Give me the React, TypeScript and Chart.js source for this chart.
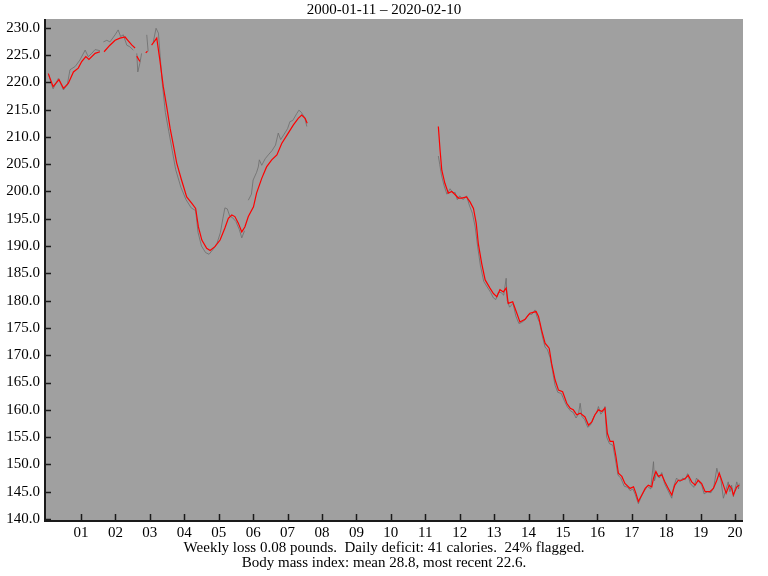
import React, { useEffect, useRef } from "react";
import { Chart, registerables } from "chart.js";

Chart.register(...registerables);

const titleText = "2000-01-11 \u2013 2020-02-10";
const footerLines = [
  "Weekly loss 0.08 pounds.  Daily deficit: 41 calories.  24% flagged.",
  "Body mass index: mean 28.8, most recent 22.6.",
];

const yTickValues = [140, 145, 150, 155, 160, 165, 170, 175, 180, 185, 190, 195, 200, 205, 210, 215, 220, 225, 230];
const xTickYears = [2001, 2002, 2003, 2004, 2005, 2006, 2007, 2008, 2009, 2010, 2011, 2012, 2013, 2014, 2015, 2016, 2017, 2018, 2019, 2020];

// Trend line (red); null = gap
const trendYears = [
  2000.05, 2000.19, 2000.36, 2000.49, 2000.63, 2000.78, 2000.92, 2001.02, 2001.14, 2001.23, 2001.41, 2001.55,
  2001.6,
  2001.67, 2001.84, 2001.99, 2002.13, 2002.28, 2002.36, 2002.48, 2002.57,
  2002.6,
  2002.62, 2002.71,
  2002.8,
  2002.88, 2002.93,
  2002.98,
  2003.05, 2003.2, 2003.29, 2003.39, 2003.49, 2003.59, 2003.68, 2003.78, 2003.92, 2004.07, 2004.22, 2004.33,
  2004.41, 2004.51, 2004.65, 2004.75, 2004.89, 2005.04, 2005.18, 2005.28, 2005.38, 2005.47, 2005.57, 2005.67,
  2005.76, 2005.86, 2006.01, 2006.1, 2006.25, 2006.39, 2006.54, 2006.69, 2006.83, 2007.02, 2007.17, 2007.31,
  2007.41, 2007.51, 2007.57,
  2009.5,
  2011.38, 2011.43, 2011.48, 2011.57, 2011.67, 2011.77, 2011.87, 2011.96, 2012.06, 2012.2, 2012.3, 2012.4,
  2012.48, 2012.54, 2012.64, 2012.74, 2012.88, 2012.98, 2013.08, 2013.17, 2013.27, 2013.35, 2013.41, 2013.54,
  2013.66, 2013.75, 2013.9, 2014.04, 2014.22, 2014.29, 2014.38, 2014.48, 2014.6, 2014.67, 2014.77, 2014.87,
  2014.99, 2015.11, 2015.21, 2015.3, 2015.4, 2015.5, 2015.64, 2015.74, 2015.84, 2015.93, 2016.03, 2016.13,
  2016.22, 2016.29, 2016.37, 2016.46, 2016.54, 2016.61, 2016.71, 2016.8, 2016.95, 2017.05, 2017.12, 2017.19,
  2017.29, 2017.39, 2017.48, 2017.58, 2017.63, 2017.7, 2017.77, 2017.87, 2017.96, 2018.06, 2018.16, 2018.25,
  2018.35, 2018.45, 2018.55, 2018.64, 2018.74, 2018.84, 2018.93, 2019.03, 2019.13, 2019.27, 2019.37, 2019.47,
  2019.54, 2019.66, 2019.74, 2019.83, 2019.9, 2019.95, 2020.05, 2020.12,
];
const trendWeights = [
  221.6, 219.2, 220.5, 218.9, 219.8, 221.9, 222.6, 223.8, 224.7, 224.2, 225.3, 225.6,
  null,
  225.6, 226.8, 227.7, 228.1, 228.3, 227.7, 226.8, 226.3,
  null,
  224.8, 223.8,
  null,
  225.4, 225.7,
  null,
  226.8, 228.1, 224.1, 219.2, 215.5, 211.5, 208.6, 205.2, 202.1, 199.0, 197.8, 196.9,
  193.5, 191.1, 189.6, 189.2, 189.9, 191.1, 193.3, 195.1, 195.7, 195.4, 194.2, 192.6,
  193.5, 195.4, 197.2, 199.7, 202.4, 204.5, 205.8, 206.7, 208.8, 210.7, 212.2, 213.4,
  214.0, 213.4, 212.5,
  null,
  211.9, 207.6, 203.9, 201.5, 199.7, 200.0, 199.4, 198.8, 198.8, 199.0, 198.1, 196.9,
  194.2, 190.5, 186.8, 183.8, 182.3, 181.3, 180.7, 182.0, 181.6, 182.3, 179.5, 179.8,
  177.7, 176.1, 176.6, 177.7, 178.0, 177.1, 174.6, 172.2, 171.3, 168.5, 165.5, 163.6,
  163.3, 161.2, 160.3, 160.0, 159.1, 159.4, 158.7, 157.2, 157.8, 159.1, 160.0, 159.7,
  160.3, 155.7, 154.2, 154.2, 151.4, 148.4, 147.8, 146.5, 145.6, 145.9, 144.7, 143.2,
  144.4, 145.6, 146.2, 145.9, 147.5, 148.7, 147.8, 148.1, 146.8, 145.6, 144.4, 146.2,
  147.1, 147.1, 147.4, 148.0, 146.8, 146.2, 147.1, 146.5, 145.0, 145.0, 145.6, 147.1,
  148.4, 146.2, 144.7, 146.2, 145.6, 144.4, 145.9, 146.2,
];

// Raw weights (gray); null = gap
const rawYears = [
  2000.05, 2000.1, 2000.19, 2000.34, 2000.49, 2000.6, 2000.68, 2000.83, 2000.97, 2001.12, 2001.21, 2001.31, 2001.41, 2001.55,
  2001.6,
  2001.65, 2001.75, 2001.84, 2001.99, 2002.08, 2002.15, 2002.23, 2002.33, 2002.42, 2002.52,
  2002.57,
  2002.62, 2002.65, 2002.71, 2002.76,
  2002.83,
  2002.91, 2002.95,
  2003.02,
  2003.1, 2003.18, 2003.25, 2003.35, 2003.45, 2003.55, 2003.65, 2003.75, 2003.9, 2004.05, 2004.2, 2004.33,
  2004.4, 2004.5, 2004.62, 2004.72, 2004.85, 2004.95, 2005.05, 2005.12, 2005.18, 2005.25, 2005.32, 2005.4,
  2005.5, 2005.6, 2005.67, 2005.75,
  2005.8,
  2005.86, 2005.95, 2006.0, 2006.1, 2006.15, 2006.18, 2006.25, 2006.35, 2006.44, 2006.55, 2006.65, 2006.73,
  2006.8, 2006.9, 2007.0, 2007.07, 2007.15, 2007.27, 2007.33, 2007.4, 2007.5, 2007.56,
  2009.5,
  2011.38, 2011.42, 2011.47, 2011.55, 2011.63, 2011.72, 2011.8, 2011.87, 2011.93, 2012.0, 2012.1, 2012.2,
  2012.28, 2012.37, 2012.45, 2012.52, 2012.6, 2012.7, 2012.8, 2012.9, 2012.98, 2013.05, 2013.12, 2013.2,
  2013.28, 2013.35, 2013.38, 2013.45, 2013.55, 2013.63, 2013.72, 2013.8, 2013.9, 2014.0, 2014.1, 2014.19,
  2014.25, 2014.32, 2014.4, 2014.48, 2014.55, 2014.63, 2014.7, 2014.77, 2014.85, 2014.95, 2015.05, 2015.13,
  2015.22, 2015.3, 2015.38, 2015.45, 2015.5, 2015.55, 2015.63, 2015.72, 2015.8, 2015.9, 2015.98, 2016.03,
  2016.1, 2016.18, 2016.22, 2016.27, 2016.35, 2016.45, 2016.52, 2016.6, 2016.68, 2016.78, 2016.88, 2016.95,
  2017.03, 2017.1, 2017.19, 2017.27, 2017.35, 2017.45, 2017.55, 2017.63, 2017.66, 2017.72, 2017.8, 2017.87,
  2017.95, 2018.05, 2018.16, 2018.22, 2018.3, 2018.4, 2018.48, 2018.55, 2018.62, 2018.7, 2018.8, 2018.88,
  2018.95, 2019.03, 2019.1, 2019.2, 2019.3, 2019.38, 2019.47, 2019.52, 2019.58, 2019.66, 2019.72, 2019.8,
  2019.85, 2019.9, 2019.95, 2020.0, 2020.05, 2020.1, 2020.12,
];
const rawWeights = [
  221.6, 220.5, 218.8, 220.7, 218.6, 219.5, 222.3, 222.9, 224.1, 225.9, 224.7, 225.3, 226.0, 225.8,
  null,
  227.4, 227.7, 227.4, 228.7, 229.6, 228.4, 228.7, 226.8, 226.5, 225.9,
  null,
  225.3, 221.9, 223.5, 225.3,
  null,
  228.7, 225.7,
  null,
  227.4, 229.9, 229.0, 220.5, 214.5, 211.0, 207.5, 204.0, 200.8, 198.5, 197.0, 196.5,
  192.5, 190.0, 188.8, 188.5, 189.5, 190.5, 192.5, 195.0, 197.0, 196.8, 195.5, 195.2,
  194.5, 193.0, 191.5, 192.8,
  null,
  198.4, 199.5, 202.1, 203.5, 204.5, 205.8, 204.8, 206.0, 206.7, 207.5, 208.5, 210.7,
  209.5, 210.5, 211.5, 212.8, 213.0, 214.3, 214.9, 214.5, 213.5, 211.9,
  null,
  206.5, 205.0, 203.0, 201.0, 199.5, 200.5, 199.8, 199.8, 198.5, 199.2, 198.5, 199.2,
  197.5, 196.0, 193.5, 190.0, 186.5, 183.5, 182.5, 181.5, 180.5, 180.2, 181.5, 181.5,
  181.0, 184.1, 180.0, 178.8, 179.5, 177.2, 175.8, 176.0, 176.5, 177.5, 177.5, 178.3,
  177.0, 176.0, 173.5, 171.5, 171.0, 169.5, 167.0, 164.5, 163.2, 163.0, 161.5, 160.5,
  159.8, 159.5, 158.5, 159.2, 161.2, 158.8, 158.2, 156.8, 157.2, 158.8, 159.5, 160.6,
  159.2, 159.8, 160.6, 155.0, 153.8, 153.5, 151.0, 148.0, 147.5, 146.0, 145.8, 145.2,
  145.5, 144.5, 142.8, 144.0, 145.0, 146.0, 145.5, 150.5, 147.0, 148.5, 147.5, 148.5,
  146.5, 145.2, 143.8, 146.0, 147.5, 146.8, 147.5, 147.2, 148.3, 146.5, 145.8, 147.5,
  146.8, 146.2, 144.6, 145.0, 144.8, 145.8, 149.3, 148.0, 147.5, 143.8, 145.0, 146.8,
  145.0, 146.2, 144.1, 145.5, 146.8, 145.5, 146.5,
];

const FONT = "'Liberation Serif', 'Times New Roman', serif";

export default function App() {
  const canvasRef = useRef<HTMLCanvasElement | null>(null);

  useEffect(() => {
    const canvas = canvasRef.current;
    if (!canvas) return;

    const trendData = trendYears.map((x, i) => ({ x, y: trendWeights[i] }));
    const rawData = rawYears.map((x, i) => ({ x, y: rawWeights[i] }));

    const decor = {
      id: "decor",
      beforeDraw(chart: any) {
        const { ctx, chartArea: ca, width, height } = chart;
        ctx.save();
        ctx.fillStyle = "#ffffff";
        ctx.fillRect(0, 0, width, height);
        ctx.fillStyle = "#a0a0a0";
        ctx.fillRect(ca.left, ca.top, ca.right - ca.left, ca.bottom - ca.top);
        ctx.restore();
      },
      afterDraw(chart: any) {
        const { ctx, chartArea: ca, width } = chart;
        const xs = chart.scales.x;
        const ys = chart.scales.y;
        ctx.save();
        ctx.strokeStyle = "#1a1a1a";
        ctx.lineWidth = 2;
        ctx.beginPath();
        ctx.moveTo(ca.left, ca.top);
        ctx.lineTo(ca.left, ca.bottom);
        ctx.lineTo(ca.right, ca.bottom);
        ctx.stroke();
        ctx.lineWidth = 1.5;
        ctx.beginPath();
        for (const v of yTickValues) {
          const py = Math.round(ys.getPixelForValue(v)) + 0.5;
          ctx.moveTo(ca.left, py);
          ctx.lineTo(ca.left + 6, py);
        }
        for (const v of xTickYears) {
          const px = Math.round(xs.getPixelForValue(v)) + 0.5;
          ctx.moveTo(px, ca.bottom);
          ctx.lineTo(px, ca.bottom - 7);
        }
        ctx.stroke();
        ctx.fillStyle = "#000";
        ctx.font = "15px " + FONT;
        ctx.textAlign = "center";
        ctx.textBaseline = "middle";
        ctx.fillText(titleText, width / 2, 10);
        ctx.fillText(footerLines[0], width / 2, 548);
        ctx.fillText(footerLines[1], width / 2, 563);
        ctx.restore();
      },
    };

    const chart = new Chart(canvas, {
      type: "line",
      data: {
        datasets: [
          {
            label: "Trend",
            data: trendData as any,
            borderColor: "#ff0000",
            borderWidth: 1.2,
            pointRadius: 0,
            tension: 0,
            spanGaps: false,
          },
          {
            label: "Weight",
            data: rawData as any,
            borderColor: "rgba(105,105,105,0.75)",
            borderWidth: 1,
            pointRadius: 0,
            tension: 0,
            spanGaps: false,
          },
        ],
      },
      options: {
        responsive: false,
        animation: false,
        events: [],
        layout: { padding: { top: 19, right: 25, left: 0, bottom: 0 } },
        plugins: { legend: { display: false }, tooltip: { enabled: false }, title: { display: false } },
        scales: {
          x: {
            type: "linear",
            min: 1999.954,
            max: 2020.23,
            afterFit: (s: any) => { s.height = 55; },
            afterBuildTicks: (s: any) => { s.ticks = xTickYears.map((v) => ({ value: v })); },
            grid: { display: false, drawTicks: false },
            border: { display: false },
            ticks: {
              autoSkip: false,
              maxRotation: 0,
              padding: 3,
              color: "#000",
              font: { family: FONT, size: 15 },
              callback: (v: any) => String(Number(v) - 2000).padStart(2, "0"),
            },
          },
          y: {
            type: "linear",
            min: 139.63,
            max: 231.6,
            afterFit: (s: any) => { s.width = 45; },
            afterBuildTicks: (s: any) => { s.ticks = yTickValues.map((v) => ({ value: v })); },
            grid: { display: false, drawTicks: false },
            border: { display: false },
            ticks: {
              autoSkip: false,
              padding: 5,
              color: "#000",
              font: { family: FONT, size: 15 },
              callback: (v: any) => Number(v).toFixed(1),
            },
          },
        },
      },
      plugins: [decor],
    });

    return () => chart.destroy();
  }, []);

  return (
    <div style={{ position: "absolute", left: 0, top: 0, width: 768, height: 576 }}>
      <canvas ref={canvasRef} width={768} height={576} style={{ display: "block", width: 768, height: 576 }} />
    </div>
  );
}
